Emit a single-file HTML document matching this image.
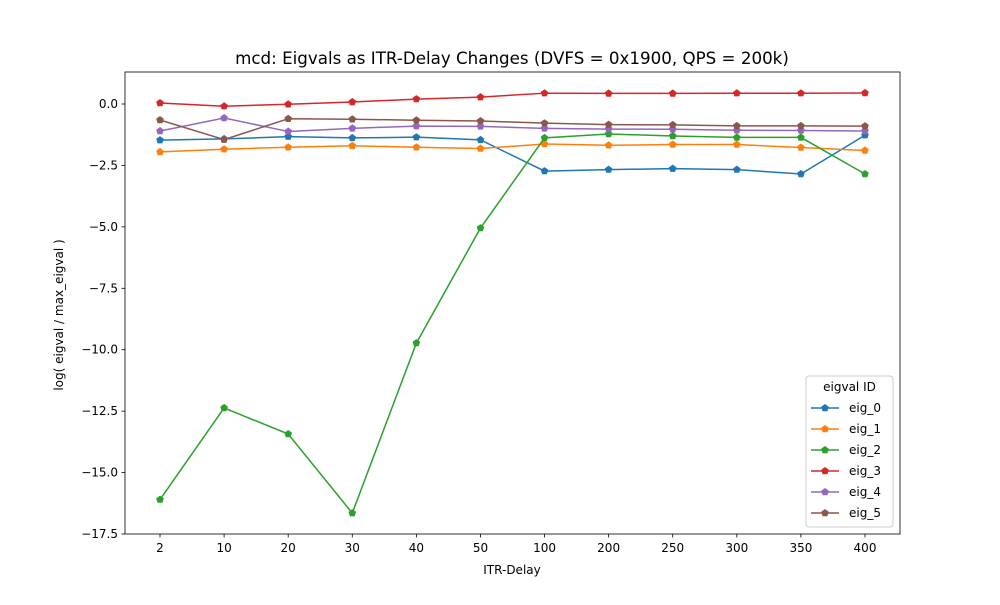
<!DOCTYPE html>
<html><head><meta charset="utf-8"><style>
body{margin:0;background:#fff;font-family:"Liberation Sans","DejaVu Sans",sans-serif}
svg text{font-family:"DejaVu Sans","Liberation Sans",sans-serif}
</style></head><body>
<svg id="c" width="1000" height="600" xmlns="http://www.w3.org/2000/svg"></svg>
<script>
const categories=["2","10","20","30","40","50","100","200","250","300","350","400"];
const seriesNames=["eig_0","eig_1","eig_2","eig_3","eig_4","eig_5"];
const eig0=[-1.47,-1.42,-1.33,-1.38,-1.35,-1.46,-2.73,-2.67,-2.63,-2.67,-2.85,-1.27];
const eig1=[-1.95,-1.84,-1.76,-1.7,-1.76,-1.81,-1.63,-1.68,-1.65,-1.65,-1.77,-1.89];
const eig2=[-16.1,-12.37,-13.43,-16.65,-9.73,-5.05,-1.38,-1.22,-1.3,-1.36,-1.36,-2.85];
const eig3=[0.04,-0.09,-0.01,0.08,0.2,0.28,0.44,0.43,0.43,0.44,0.44,0.45];
const eig4=[-1.1,-0.57,-1.12,-0.99,-0.9,-0.91,-0.99,-1.02,-1.03,-1.07,-1.08,-1.1];
const eig5=[-0.65,-1.45,-0.6,-0.62,-0.66,-0.69,-0.78,-0.84,-0.85,-0.89,-0.89,-0.9];
const yTicks=[0,-2.5,-5,-7.5,-10,-12.5,-15,-17.5];
const colors=["#1f77b4","#ff7f0e","#2ca02c","#d62728","#9467bd","#8c564b"];
const allSeries=[eig0,eig1,eig2,eig3,eig4,eig5];
const L=125,R=900,T=72,B=534;
const xS=i=>160+i*(865-160)/(categories.length-1);
const yS=v=>104-v*(430/17.5);
const svg=document.getElementById('c');
const NS="http://www.w3.org/2000/svg";
function mk(t,a,p){const e=document.createElementNS(NS,t);for(const k in a)e.setAttribute(k,a[k]);(p||svg).appendChild(e);return e;}
function txt(s,a,p){const e=mk('text',a,p);e.textContent=s;return e;}
function pent(x,y,r){let p=[];for(let k=0;k<5;k++){const a=-Math.PI/2+k*2*Math.PI/5;p.push((x+r*Math.cos(a)).toFixed(1)+','+(y+r*Math.sin(a)).toFixed(1));}return p.join(' ');}
const ax=mk('rect',{x:L,y:T,width:R-L,height:B-T,fill:'none',stroke:'#000','stroke-width':0.8});

categories.forEach((c,i)=>{const x=xS(i);mk('line',{x1:x,x2:x,y1:B,y2:B+3.5,stroke:'#000','stroke-width':0.8});
const t=txt(c,{x:x,y:B+18,'font-size':12,'text-anchor':'middle'});});
yTicks.forEach(v=>{const y=yS(v);mk('line',{x1:L-3.5,x2:L,y1:y,y2:y,stroke:'#000','stroke-width':0.8});
const t=txt(v.toFixed(1).replace('-','−'),{x:L-7,y:y+4,'font-size':12,'text-anchor':'end'});});
allSeries.forEach((s,j)=>{const g=mk('g',{});
mk('polyline',{points:s.map((v,i)=>xS(i)+','+yS(v)).join(' '),fill:'none',stroke:colors[j],'stroke-width':1.5},g);
s.forEach((v,i)=>{const m=mk('polygon',{points:pent(xS(i),yS(v),4),fill:colors[j]},g);});});
const ti=txt('mcd: Eigvals as ITR-Delay Changes (DVFS = 0x1900, QPS = 200k)',{x:512,y:64,'font-size':16.7,'text-anchor':'middle'});

const xt=txt('ITR-Delay',{x:512,y:574,'font-size':12,'text-anchor':'middle'});
const yt=txt('log( eigval / max_eigval )',{x:0,y:0,'font-size':12,'text-anchor':'middle',transform:'translate(63,315) rotate(-90)'});
const lg=mk('g',{});
mk('rect',{x:806,y:376,width:87,height:151,rx:3,fill:'#fff','fill-opacity':0.8,stroke:'#ccc'},lg);
txt('eigval ID',{x:849.5,y:391,'font-size':12,'text-anchor':'middle'},lg);
seriesNames.forEach((n,j)=>{const y=408+j*21;const e=mk('g',{},lg);
mk('line',{x1:811,x2:839,y1:y,y2:y,stroke:colors[j],'stroke-width':1.5},e);mk('polygon',{points:pent(825,y,4),fill:colors[j]},e);
txt(n,{x:849,y:y+4,'font-size':12},e);});
</script></body></html>
